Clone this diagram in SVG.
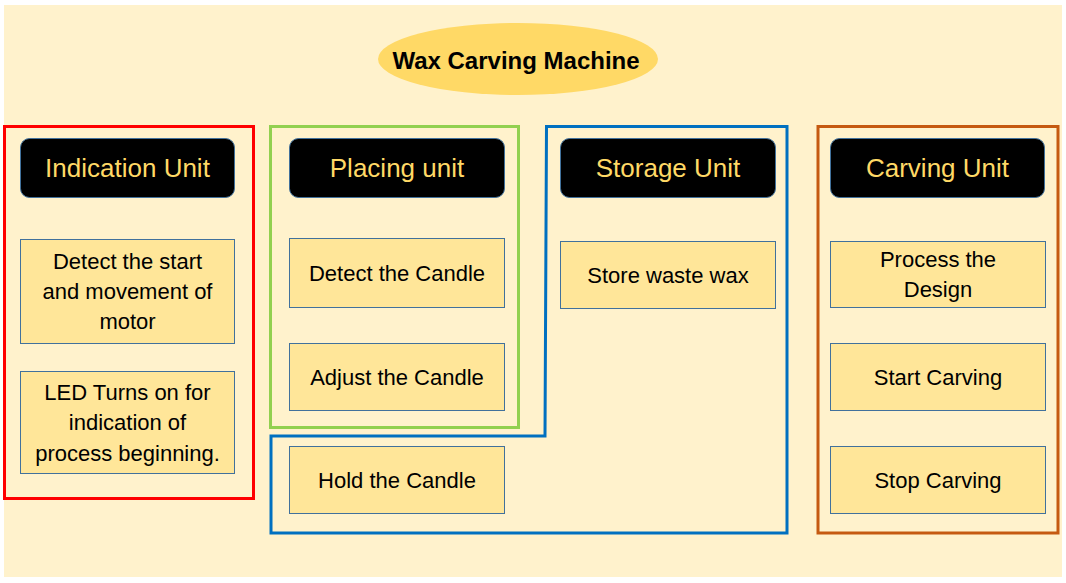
<svg xmlns="http://www.w3.org/2000/svg" width="1066" height="583" viewBox="0 0 1066 583">
<style>
.hdr{fill:#000;stroke:#41719C;stroke-width:1}
.hdrt{fill:#FFD966;font-family:"Liberation Sans",Arial,sans-serif;font-size:26px;text-anchor:middle}
.box{fill:#FFE699;stroke:#41719C;stroke-width:1}
.bt{fill:#000;font-family:"Liberation Sans",Arial,sans-serif;font-size:22px;text-anchor:middle}
.grp{fill:none;stroke-width:3}
</style>
<rect x="0" y="0" width="1066" height="583" fill="#FFFFFF"/>
<rect x="4" y="5" width="1058" height="572" fill="#FFF2CC"/>
<g id="title">
<ellipse cx="518" cy="59" rx="140" ry="36" fill="#FFD966"/>
<text x="516" y="69" style="font-family:'Liberation Sans',Arial,sans-serif;font-size:24px;font-weight:bold;text-anchor:middle" fill="#000">Wax Carving Machine</text>
</g>
<g id="containers">
<rect class="grp" x="4.5" y="126.5" width="249" height="372" stroke="#FF0000"/>
<rect class="grp" x="270.5" y="126.5" width="248" height="301" stroke="#92D050"/>
<path class="grp" d="M546.5,126.5 L787,126.5 L787,533 L271,533 L271,436 L545,436 Z" stroke="#0070C0"/>
<rect class="grp" x="818" y="126.5" width="240" height="406.5" stroke="#C55A11"/>
</g>
<g id="connectors"></g>
<g id="indication-unit">
<rect class="hdr" x="20.5" y="138.5" width="214" height="59" rx="9"/>
<text class="hdrt" x="127.5" y="177">Indication Unit</text>
</g>
<g id="detect-start">
<rect class="box" x="20.5" y="239.5" width="214" height="104"/>
<text class="bt" x="127.5" y="269">Detect the start</text>
<text class="bt" x="127.5" y="299">and movement of</text>
<text class="bt" x="127.5" y="329">motor</text>
</g>
<g id="led-turns-on">
<rect class="box" x="20.5" y="371.5" width="214" height="102"/>
<text class="bt" x="127.5" y="400">LED Turns on for</text>
<text class="bt" x="127.5" y="430">indication of</text>
<text class="bt" x="127.5" y="461">process beginning.</text>
</g>
<g id="placing-unit">
<rect class="hdr" x="289.5" y="138.5" width="215" height="59" rx="9"/>
<text class="hdrt" x="397" y="177">Placing unit</text>
</g>
<g id="detect-candle">
<rect class="box" x="289.5" y="238.5" width="215" height="69"/>
<text class="bt" x="397" y="281">Detect the Candle</text>
</g>
<g id="adjust-candle">
<rect class="box" x="289.5" y="343.5" width="215" height="67"/>
<text class="bt" x="397" y="385">Adjust the Candle</text>
</g>
<g id="hold-candle">
<rect class="box" x="289.5" y="446.5" width="215" height="67"/>
<text class="bt" x="397" y="488">Hold the Candle</text>
</g>
<g id="storage-unit">
<rect class="hdr" x="560.5" y="138.5" width="215" height="59" rx="9"/>
<text class="hdrt" x="668" y="177">Storage Unit</text>
</g>
<g id="store-waste-wax">
<rect class="box" x="560.5" y="241.5" width="215" height="67"/>
<text class="bt" x="668" y="283">Store waste wax</text>
</g>
<g id="carving-unit">
<rect class="hdr" x="830.5" y="138.5" width="214" height="59" rx="9"/>
<text class="hdrt" x="937.5" y="177">Carving Unit</text>
</g>
<g id="process-design">
<rect class="box" x="830.5" y="241.5" width="215" height="66"/>
<text class="bt" x="938" y="267">Process the</text>
<text class="bt" x="938" y="297">Design</text>
</g>
<g id="start-carving">
<rect class="box" x="830.5" y="343.5" width="215" height="67"/>
<text class="bt" x="938" y="385">Start Carving</text>
</g>
<g id="stop-carving">
<rect class="box" x="830.5" y="446.5" width="215" height="67"/>
<text class="bt" x="938" y="488">Stop Carving</text>
</g>
</svg>
